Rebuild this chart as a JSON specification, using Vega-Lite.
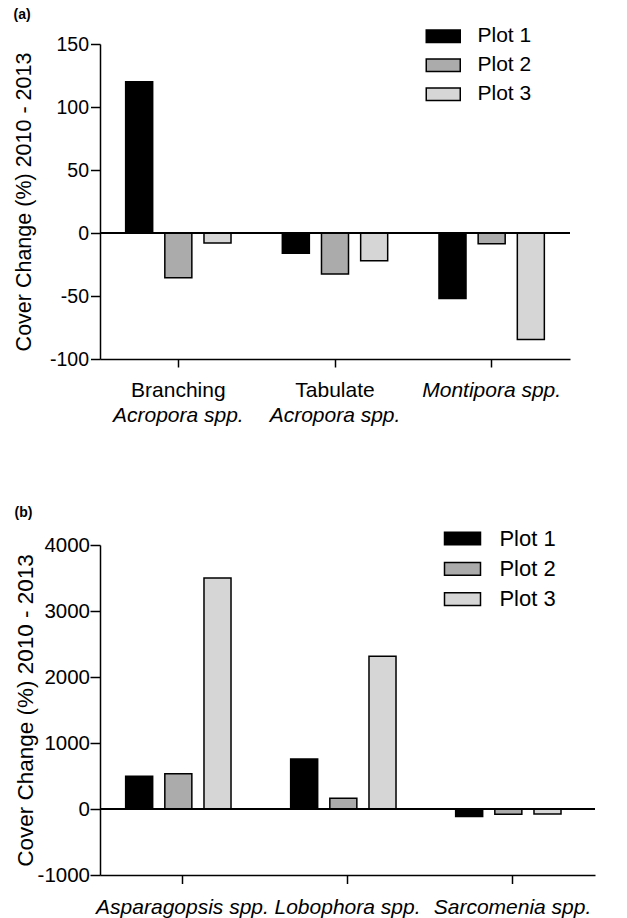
{
  "$schema": "https://vega.github.io/schema/vega-lite/v6.json",
  "padding": {"left": 13, "top": 7, "right": 0, "bottom": 0},
  "spacing": 79,
  "config": {
    "font": "Liberation Sans",
    "view": {"stroke": null},
    "axis": {"domainColor": "black", "domainWidth": 1.5, "tickColor": "black", "tickWidth": 1.5, "labelColor": "black", "titleColor": "black", "labelFont": "Liberation Sans", "titleFont": "Liberation Sans", "titleFontWeight": "normal", "grid": false, "labelLimit": 0, "titleLimit": 0},
    "legend": {"labelFont": "Liberation Sans", "labelColor": "black", "padding": 0, "symbolStrokeColor": "black", "symbolStrokeWidth": 1.5, "symbolOpacity": 1},
    "title": {"font": "Liberation Sans", "fontSize": 14, "fontWeight": "bold", "anchor": "start", "color": "black"}
  },
  "resolve": {"scale": {"fill": "independent"}, "legend": {"fill": "independent"}},
  "vconcat": [
    {
      "title": {"text": "(a)"},
      "width": 470,
      "height": 315,
      "data": {"values": [
        {"group": "Branching", "plot": "Plot 1", "value": 120},
        {"group": "Branching", "plot": "Plot 2", "value": -35.5},
        {"group": "Branching", "plot": "Plot 3", "value": -8},
        {"group": "Tabulate", "plot": "Plot 1", "value": -16},
        {"group": "Tabulate", "plot": "Plot 2", "value": -32.5},
        {"group": "Tabulate", "plot": "Plot 3", "value": -22},
        {"group": "Montipora spp.", "plot": "Plot 1", "value": -52},
        {"group": "Montipora spp.", "plot": "Plot 2", "value": -8.5},
        {"group": "Montipora spp.", "plot": "Plot 3", "value": -84.5}
      ]},
      "layer": [
        {
          "mark": {"type": "bar", "stroke": "black", "strokeWidth": 1.5},
          "encoding": {
            "x": {"field": "group", "type": "nominal", "sort": null,
              "scale": {"paddingInner": 0, "paddingOuter": 0},
              "axis": {"orient": "bottom", "title": null, "labelAngle": 0, "tickSize": 8, "labelPadding": 12.8, "labelFontSize": 21, "labelOverlap": false,
                "labelFontStyle": {"condition": {"test": "datum.value == 'Montipora spp.'", "value": "italic"}, "value": "normal"}}},
            "xOffset": {"field": "plot", "type": "nominal", "scale": {"paddingInner": 0.31, "paddingOuter": 0.655}},
            "y": {"field": "value", "type": "quantitative",
              "scale": {"domain": [-100, 150], "nice": false},
              "axis": {"values": [-100, -50, 0, 50, 100, 150], "labelExpr": "'' + datum.value", "title": "Cover Change (%) 2010 - 2013", "titleFontSize": 21.5, "titlePadding": 14, "labelFontSize": 19.5, "tickSize": 9.5, "labelPadding": 2}},
            "fill": {"field": "plot", "type": "nominal",
              "scale": {"domain": ["Plot 1", "Plot 2", "Plot 3"], "range": ["#000000", "#ababab", "#d6d6d6"]},
              "legend": {"title": null, "orient": "none", "legendX": 332.75, "legendY": -18.2, "symbolType": "M-2,-0.74H2V0.74H-2Z", "symbolSize": 289, "labelFontSize": 21, "labelOffset": 23.75, "rowPadding": 7}}
          }
        },
        {
          "mark": {"type": "rule", "stroke": "black", "strokeWidth": 2},
          "encoding": {"y": {"datum": 0, "type": "quantitative"}}
        },
        {
          "mark": {"type": "text", "text": ""},
          "encoding": {
            "x": {"field": "group", "type": "nominal", "sort": null,
              "axis": {"orient": "bottom", "title": null, "labelAngle": 0, "domain": false, "tickOpacity": 0, "tickSize": 8, "labelPadding": 37.8, "labelFontSize": 21, "labelFontStyle": "italic", "labelOverlap": false,
                "labelExpr": "datum.value == 'Montipora spp.' ? '' : 'Acropora spp.'"}}
          }
        }
      ],
      "resolve": {"axis": {"x": "independent"}}
    },
    {
      "title": {"text": "(b)", "offset": 8},
      "width": 495,
      "height": 330,
      "data": {"values": [
        {"group": "Asparagopsis spp.", "plot": "Plot 1", "value": 495},
        {"group": "Asparagopsis spp.", "plot": "Plot 2", "value": 535},
        {"group": "Asparagopsis spp.", "plot": "Plot 3", "value": 3500},
        {"group": "Lobophora spp.", "plot": "Plot 1", "value": 757},
        {"group": "Lobophora spp.", "plot": "Plot 2", "value": 162},
        {"group": "Lobophora spp.", "plot": "Plot 3", "value": 2316},
        {"group": "Sarcomenia spp.", "plot": "Plot 1", "value": -115},
        {"group": "Sarcomenia spp.", "plot": "Plot 2", "value": -80},
        {"group": "Sarcomenia spp.", "plot": "Plot 3", "value": -76}
      ]},
      "layer": [
        {
          "mark": {"type": "bar", "stroke": "black", "strokeWidth": 1.5},
          "encoding": {
            "x": {"field": "group", "type": "nominal", "sort": null,
              "scale": {"paddingInner": 0, "paddingOuter": 0},
              "axis": {"orient": "bottom", "title": null, "labelAngle": 0, "tickSize": 8.5, "labelPadding": 13.3, "labelFontSize": 21, "labelFontStyle": "italic", "labelOverlap": false}},
            "xOffset": {"field": "plot", "type": "nominal", "scale": {"paddingInner": 0.31, "paddingOuter": 0.655}},
            "y": {"field": "value", "type": "quantitative",
              "scale": {"domain": [-1000, 4000], "nice": false},
              "axis": {"values": [-1000, 0, 1000, 2000, 3000, 4000], "labelExpr": "'' + datum.value", "title": "Cover Change (%) 2010 - 2013", "titleFontSize": 22.5, "titlePadding": -0.5, "labelFontSize": 20.5, "tickSize": 10, "labelPadding": 0.5}},
            "fill": {"field": "plot", "type": "nominal",
              "scale": {"domain": ["Plot 1", "Plot 2", "Plot 3"], "range": ["#000000", "#ababab", "#d6d6d6"]},
              "legend": {"title": null, "orient": "none", "legendX": 351.5, "legendY": -17.5, "symbolType": "M-2,-0.705H2V0.705H-2Z", "symbolSize": 324, "labelFontSize": 22, "labelOffset": 25.95, "rowPadding": 8.3}}
          }
        },
        {
          "mark": {"type": "rule", "stroke": "black", "strokeWidth": 2},
          "encoding": {"y": {"datum": 0, "type": "quantitative"}}
        }
      ]
    }
  ]
}
